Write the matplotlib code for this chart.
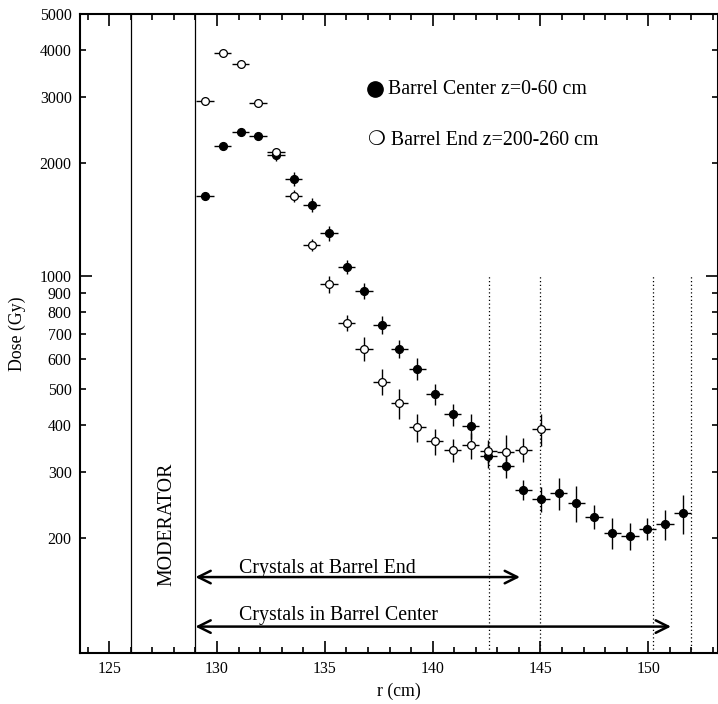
import numpy as np
import matplotlib
matplotlib.use('Agg')
import matplotlib.pyplot as plt
from matplotlib.ticker import FixedLocator, MultipleLocator

plt.rcParams['font.family'] = ['Liberation Serif', 'DejaVu Sans']

# Barrel Center z=0-60 cm (filled)
r_center = [129.45, 130.26, 131.1, 131.9, 132.74, 133.55, 134.39, 135.19, 136.01, 136.82,
            137.63, 138.45, 139.29, 140.1, 140.93, 141.76, 142.58, 143.38, 144.2, 145.02,
            145.84, 146.66, 147.48, 148.33, 149.15, 149.95, 150.77, 151.59]
dose_center = [1640, 2220, 2420, 2360, 2100, 1820, 1550, 1300, 1060, 915,
               740, 641, 565, 484, 428, 399, 332, 311, 269, 254,
               264, 248, 228, 207, 203, 212, 218, 233]
err_center = [30, 41, 45, 43, 77, 78, 67, 56, 46, 45,
              41, 35, 38, 30, 29, 31, 24, 21, 16, 19,
              26, 27, 17, 20, 17, 14, 20, 28]

# Barrel End z=200-260 cm (open)
r_end = [129.45, 130.26, 131.1, 131.9, 132.74, 133.55, 134.39, 135.19, 136.01, 136.82,
         137.63, 138.45, 139.29, 140.1, 140.93, 141.76, 142.58, 143.38, 144.2, 145.02]
dose_end = [2930, 3925, 3675, 2887, 2137, 1634, 1214, 950, 750, 641,
            523, 459, 395, 363, 344, 354, 342, 339, 344, 390]
err_end = [54, 72, 68, 53, 52, 60, 45, 51, 37, 47,
           41, 42, 33, 29, 24, 28, 24, 37, 25, 38]

r_halfbin = 0.4

moderator_lines = [126.0, 129.0]
crystal_lines = [142.6, 145.0, 150.2, 152.0]

y_major = [1000]
y_minor = [200, 300, 400, 500, 600, 700, 800, 900, 2000, 3000, 4000, 5000]

fig = plt.figure(figsize=(7.18, 7.04), dpi=100)
ax = fig.add_axes([80/718, 51/704, 638/718, 639/704])
ax.set_yscale('log')
ax.set_xlim(123.65, 153.23)
ax.set_ylim(98.8, 5000)

for xv in moderator_lines:
    ax.axvline(xv, color='black', lw=0.9)
for xv in crystal_lines:
    ax.plot([xv, xv], [98.8, 1000], color='black', lw=0.9, ls=(0, (1, 2)))

ax.errorbar(r_center, dose_center, yerr=err_center, xerr=r_halfbin, fmt='o',
            color='black', ecolor='black', elinewidth=1.0, ms=5.6,
            mfc='black', mec='black', capsize=0, zorder=3)
ax.errorbar(r_end, dose_end, yerr=err_end, xerr=r_halfbin, fmt='o',
            color='black', ecolor='black', elinewidth=1.0, ms=5.6,
            mfc='white', mec='black', mew=0.9, capsize=0, zorder=3)

# legend drawn by hand
ax.plot([137.35], [3152], 'o', color='black', ms=11)
ax.text(137.95, 3152, 'Barrel Center z=0-60 cm', fontsize=14.3, va='center', ha='left')
ax.text(137.0, 2305, '\u274d Barrel End z=200-260 cm', fontsize=14.3, va='center', ha='left')

# arrows
arrow_style = dict(arrowstyle='<->, head_length=0.9, head_width=0.45', lw=1.8,
                   color='black', shrinkA=0, shrinkB=0)
ax.annotate('', xy=(129.0, 157.5), xytext=(144.05, 157.5), arrowprops=arrow_style)
ax.annotate('', xy=(129.0, 116.2), xytext=(151.05, 116.2), arrowprops=arrow_style)
ax.text(131.0, 161.9, 'Crystals at Barrel End', fontsize=14.3, va='baseline', ha='left')
ax.text(131.0, 121.3, 'Crystals in Barrel Center', fontsize=14.3, va='baseline', ha='left')
ax.text(127.68, 218, 'MODERATOR', fontsize=14.3, rotation=90, va='center', ha='center')

ax.xaxis.set_major_locator(MultipleLocator(5))
ax.xaxis.set_minor_locator(MultipleLocator(1))
ax.yaxis.set_major_locator(FixedLocator(y_major))
ax.yaxis.set_minor_locator(FixedLocator(y_minor))
ax.set_yticklabels([str(v) for v in y_major])
ax.set_yticklabels([str(v) for v in y_minor], minor=True)

ax.tick_params(which='both', direction='in', top=True, right=True, width=1.2,
               labelsize=11.4, pad=6)
ax.tick_params(which='major', length=8.6)
ax.tick_params(which='minor', length=4.3)
ax.tick_params(axis='x', which='minor', labelbottom=False)

for side in ['left', 'bottom', 'top', 'right']:
    ax.spines[side].set_linewidth(1.5)

ax.set_xlabel('r (cm)', fontsize=12.8, labelpad=4)
ax.set_ylabel('Dose (Gy)', fontsize=12.8, labelpad=10)

fig.savefig('out.png', dpi=100)
